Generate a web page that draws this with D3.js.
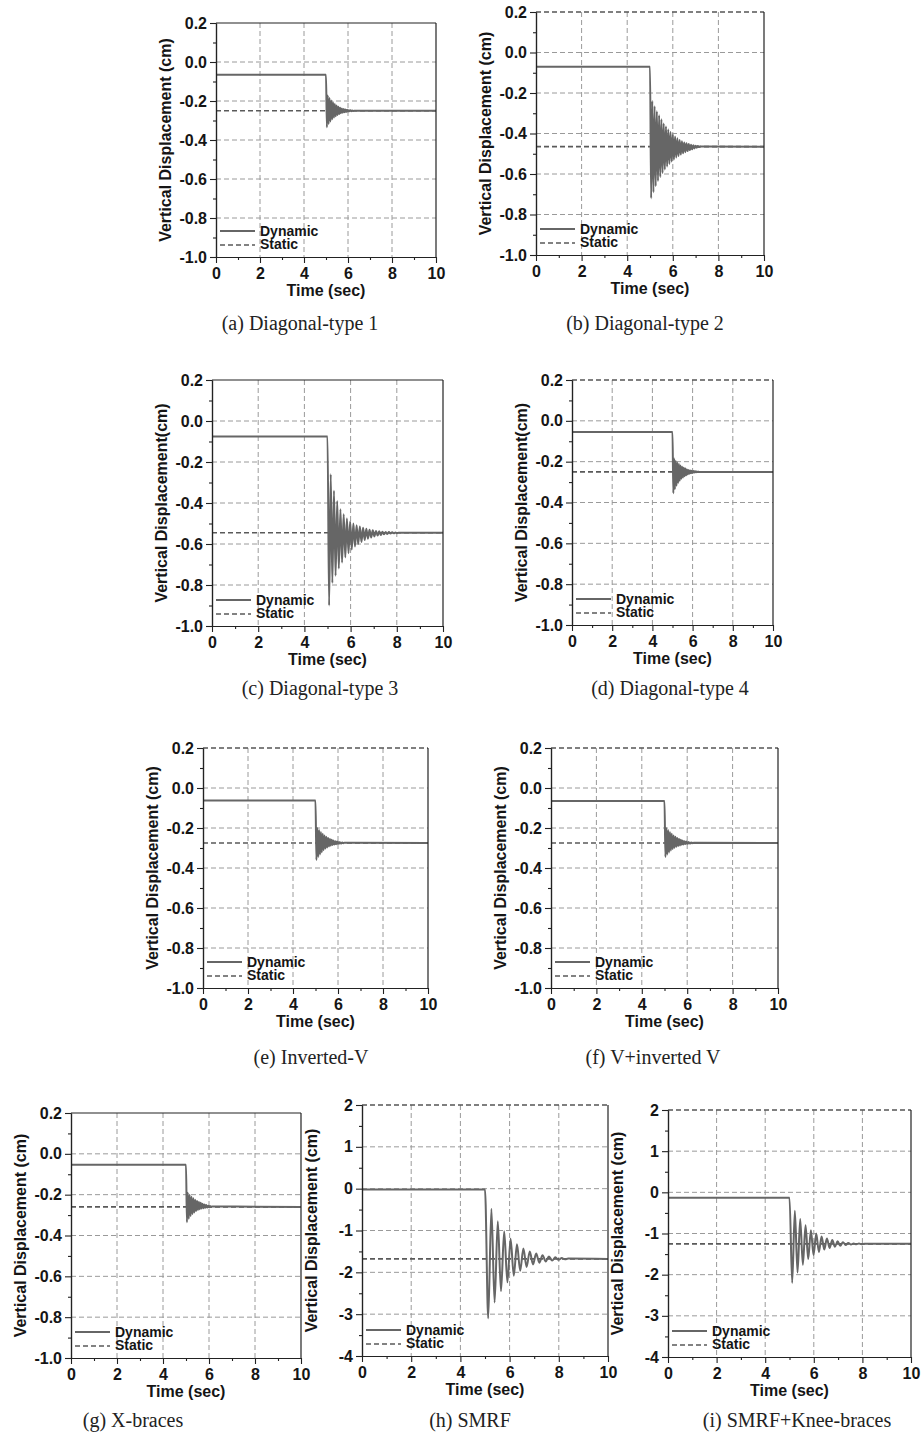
<!DOCTYPE html>
<html>
<head>
<meta charset="utf-8">
<script src="https://cdn.jsdelivr.net/npm/d3@7"></script>
<style>
  body { margin: 0; background: #fff; }
  svg text { font-family: "Liberation Sans", Arial, sans-serif; }
</style>
</head>
<body>
<svg id="fig" width="923" height="1448"></svg>
<script>
// axis ticks
var xTicks = [0, 2, 4, 6, 8, 10];
var xMinor = [1, 3, 5, 7, 9];
var yTicksS = [-1.0, -0.8, -0.6, -0.4, -0.2, 0.0, 0.2];
var yMinorS = [-0.9, -0.7, -0.5, -0.3, -0.1, 0.1];
var yTicksL = [-4, -3, -2, -1, 0, 1, 2];
var yMinorL = [-3.5, -2.5, -1.5, -0.5, 0.5, 1.5];

var captions = ['(a) Diagonal-type 1', '(b) Diagonal-type 2', '(c) Diagonal-type 3',
  '(d) Diagonal-type 4', '(e) Inverted-V', '(f) V+inverted V',
  '(g) X-braces', '(h) SMRF', '(i) SMRF+Knee-braces'];

// displacement before removal (t < 5 s), static result, half period of the ringing (s)
var preLevel    = [-0.065, -0.07, -0.075, -0.055, -0.063, -0.065, -0.054, -0.02, -0.13];
var staticLevel = [-0.25, -0.465, -0.545, -0.25, -0.275, -0.275, -0.26, -1.68, -1.25];
var halfPeriod  = [0.04, 0.05, 0.07, 0.04, 0.04, 0.04, 0.04, 0.13, 0.11];

// peaks of the dynamic response after t = 5 s
var loA = [-0.335, -0.318, -0.305, -0.294, -0.285, -0.278, -0.272, -0.267, -0.263, -0.26, -0.258, -0.256, -0.254, -0.253, -0.252, -0.251];
var hiA = [-0.172, -0.185, -0.197, -0.207, -0.216, -0.223, -0.229, -0.234, -0.238, -0.241, -0.243, -0.245, -0.247, -0.248, -0.249, -0.25];
var loB = [-0.72, -0.69, -0.66, -0.635, -0.615, -0.595, -0.578, -0.563, -0.55, -0.538, -0.528, -0.519, -0.511, -0.504, -0.498, -0.492, -0.487, -0.482, -0.478, -0.474, -0.47, -0.467];
var hiB = [-0.24, -0.265, -0.29, -0.31, -0.33, -0.35, -0.365, -0.38, -0.393, -0.405, -0.415, -0.424, -0.432, -0.438, -0.444, -0.448, -0.452, -0.455, -0.458, -0.46, -0.462, -0.464];
var loC = [-0.90, -0.79, -0.755, -0.72, -0.69, -0.665, -0.645, -0.627, -0.612, -0.6, -0.59, -0.581, -0.574, -0.568, -0.563, -0.559, -0.556, -0.553, -0.551, -0.549, -0.548, -0.547];
var hiC = [-0.26, -0.34, -0.39, -0.43, -0.455, -0.475, -0.49, -0.5, -0.508, -0.515, -0.521, -0.526, -0.53, -0.533, -0.536, -0.538, -0.54, -0.541, -0.542, -0.543, -0.544, -0.545];
var loD = [-0.355, -0.335, -0.318, -0.304, -0.293, -0.284, -0.277, -0.271, -0.266, -0.262, -0.259, -0.257, -0.255, -0.253, -0.252, -0.251, -0.25];
var hiD = [-0.185, -0.195, -0.204, -0.212, -0.219, -0.225, -0.23, -0.234, -0.238, -0.241, -0.243, -0.245, -0.246, -0.247, -0.248, -0.249, -0.25];
var loE = [-0.36, -0.345, -0.332, -0.321, -0.311, -0.303, -0.297, -0.292, -0.288, -0.285, -0.283, -0.281, -0.279, -0.278, -0.277, -0.276];
var hiE = [-0.2, -0.21, -0.22, -0.229, -0.237, -0.244, -0.25, -0.255, -0.259, -0.263, -0.266, -0.268, -0.27, -0.272, -0.273, -0.274];
var loF = [-0.345, -0.333, -0.322, -0.313, -0.305, -0.299, -0.294, -0.29, -0.287, -0.284, -0.282, -0.28, -0.279, -0.278, -0.277, -0.276];
var hiF = [-0.2, -0.21, -0.22, -0.229, -0.237, -0.244, -0.25, -0.255, -0.259, -0.263, -0.266, -0.268, -0.27, -0.272, -0.273, -0.274];
var loG = [-0.335, -0.318, -0.305, -0.295, -0.287, -0.28, -0.275, -0.271, -0.268, -0.266, -0.264, -0.263, -0.262, -0.261];
var hiG = [-0.19, -0.2, -0.21, -0.218, -0.225, -0.231, -0.236, -0.24, -0.244, -0.248, -0.251, -0.254, -0.256, -0.258];
var loH = [-3.1, -2.72, -2.45, -2.24, -2.08, -1.96, -1.87, -1.81, -1.77, -1.74, -1.72, -1.7, -1.69];
var hiH = [-0.48, -0.78, -1.02, -1.2, -1.33, -1.43, -1.5, -1.55, -1.59, -1.62, -1.64, -1.66, -1.67];
var loI = [-2.2, -1.95, -1.76, -1.62, -1.52, -1.45, -1.39, -1.35, -1.32, -1.3, -1.28, -1.27, -1.26, -1.26];
var hiI = [-0.45, -0.65, -0.8, -0.92, -1.0, -1.07, -1.12, -1.16, -1.19, -1.21, -1.23, -1.24, -1.245, -1.25];

var peaksLo = [loA, loB, loC, loD, loE, loF, loG, loH, loI];
var peaksHi = [hiA, hiB, hiC, hiD, hiE, hiF, hiG, hiH, hiI];

// plot boxes on the page
var frames = [
  {l: 216, r: 436, t: 23,   b: 257,  cx: 300, cy: 330,  top: 1, big: 0},
  {l: 536, r: 764, t: 12,   b: 255,  cx: 645, cy: 330,  top: 0, big: 0},
  {l: 212, r: 443, t: 380,  b: 626,  cx: 320, cy: 695,  top: 1, big: 0},
  {l: 572, r: 773, t: 380,  b: 625,  cx: 670, cy: 695,  top: 0, big: 0},
  {l: 203, r: 428, t: 748,  b: 988,  cx: 311, cy: 1064, top: 0, big: 0},
  {l: 551, r: 778, t: 748,  b: 988,  cx: 653, cy: 1064, top: 0, big: 0},
  {l: 71,  r: 301, t: 1113, b: 1358, cx: 133, cy: 1427, top: 1, big: 0},
  {l: 362, r: 608, t: 1105, b: 1356, cx: 470, cy: 1427, top: 0, big: 1},
  {l: 668, r: 911, t: 1110, b: 1357, cx: 797, cy: 1427, top: 0, big: 1}
];

var svg = d3.select('#fig');

frames.forEach(function(f, i) {
  var yT = f.big ? yTicksL : yTicksS;
  var yM = f.big ? yMinorL : yMinorS;
  var x = d3.scaleLinear().domain([0, 10]).range([f.l, f.r]);
  var y = d3.scaleLinear().domain([yT[0], yT[yT.length - 1]]).range([f.b, f.t]);
  var fmt = f.big ? function(d) { return String(d); } : function(d) { return d.toFixed(1); };
  var g = svg.append('g');

  // dashed grid (top one only where the frame has no solid top)
  var gridY = f.top ? yT.slice(1, -1) : yT.slice(1);
  g.selectAll('line.gx').data(xTicks.slice(1, -1)).enter().append('line')
    .attr('x1', x).attr('x2', x).attr('y1', f.t).attr('y2', f.b)
    .style('stroke', '#9a9a9a').style('stroke-width', 1).style('stroke-dasharray', '5,3');
  g.selectAll('line.gy').data(gridY).enter().append('line')
    .attr('x1', f.l).attr('x2', f.r).attr('y1', y).attr('y2', y)
    .style('stroke', function(d) { return d == yT[yT.length - 1] ? '#555' : '#9a9a9a'; })
    .style('stroke-width', function(d) { return d == yT[yT.length - 1] ? 1.3 : 1; })
    .style('stroke-dasharray', '5,3');

  // static line
  g.append('line')
    .attr('x1', x(0)).attr('x2', x(10)).attr('y1', y(staticLevel[i])).attr('y2', y(staticLevel[i]))
    .style('stroke', '#5a5a5a').style('stroke-width', 1.7).style('stroke-dasharray', '5,3');

  // dynamic response
  var pts = [[0, preLevel[i]], [5, preLevel[i]]];
  var hp = halfPeriod[i];
  peaksLo[i].forEach(function(v, k) {
    pts.push([5 + (2 * k + 1) * hp, v]);
    pts.push([5 + (2 * k + 2) * hp, peaksHi[i][k]]);
  });
  pts.push([10, staticLevel[i]]);
  g.append('path').datum(pts)
    .attr('d', d3.line().x(function(d) { return x(d[0]); }).y(function(d) { return y(d[1]); }).curve(d3.curveMonotoneX))
    .style('fill', 'none').style('stroke', '#666').style('stroke-width', 2);

  // frame
  g.append('line').attr('x1', f.r).attr('x2', f.r).attr('y1', f.t).attr('y2', f.b)
    .style('stroke', '#222').style('stroke-width', 1.2);
  if (f.top) {
    g.append('line').attr('x1', f.l).attr('x2', f.r).attr('y1', f.t).attr('y2', f.t)
      .style('stroke', '#222').style('stroke-width', 1.2);
  }

  // axes
  g.append('g').attr('transform', 'translate(0,' + f.b + ')')
    .call(d3.axisBottom(x).tickValues(xTicks).tickSize(6).tickSizeOuter(0).tickPadding(5).tickFormat(d3.format('d')));
  g.append('g').attr('transform', 'translate(0,' + f.b + ')')
    .call(d3.axisBottom(x).tickValues(xMinor).tickSize(3).tickSizeOuter(0).tickFormat(''));
  g.append('g').attr('transform', 'translate(' + f.l + ',0)')
    .call(d3.axisLeft(y).tickValues(yT).tickSize(6).tickSizeOuter(0).tickPadding(3).tickFormat(fmt));
  g.append('g').attr('transform', 'translate(' + f.l + ',0)')
    .call(d3.axisLeft(y).tickValues(yM).tickSize(3).tickSizeOuter(0).tickFormat(''));
  g.selectAll('.domain').style('stroke', '#222').style('stroke-width', 1.2);
  g.selectAll('.tick line').style('stroke', '#222').style('stroke-width', 1.1);
  g.selectAll('.tick text').style('font-family', '"Liberation Sans", Arial, sans-serif')
    .style('font-weight', 'bold').style('font-size', '16px').style('fill', '#151515');

  // axis titles
  g.append('text').attr('x', (f.l + f.r) / 2).attr('y', f.b + 39)
    .attr('text-anchor', 'middle').style('font-weight', 'bold').style('font-size', '16px').style('fill', '#151515')
    .text('Time (sec)');
  g.append('text')
    .attr('transform', 'translate(' + (f.l - 45) + ',' + ((f.t + f.b) / 2) + ') rotate(-90)')
    .attr('text-anchor', 'middle').style('font-weight', 'bold').style('font-size', '16px').style('fill', '#151515')
    .text(i == 2 || i == 3 ? 'Vertical Displacement(cm)' : 'Vertical Displacement (cm)');

  // legend
  var lg = g.append('g');
  lg.append('line').attr('x1', f.l + 4).attr('x2', f.l + 39).attr('y1', f.b - 26).attr('y2', f.b - 26)
    .style('stroke', '#666').style('stroke-width', 2);
  lg.append('line').attr('x1', f.l + 4).attr('x2', f.l + 39).attr('y1', f.b - 12).attr('y2', f.b - 12)
    .style('stroke', '#5a5a5a').style('stroke-width', 1.6).style('stroke-dasharray', '5,3');
  lg.append('text').attr('x', f.l + 44).attr('y', f.b - 21.5)
    .style('font-weight', 'bold').style('font-size', '14px').style('fill', '#151515').text('Dynamic');
  lg.append('text').attr('x', f.l + 44).attr('y', f.b - 8)
    .style('font-weight', 'bold').style('font-size', '14px').style('fill', '#151515').text('Static');

  // caption
  svg.append('text').attr('x', f.cx).attr('y', f.cy).attr('text-anchor', 'middle')
    .style('font-family', '"Liberation Serif", "Times New Roman", serif').style('font-size', '20px').style('fill', '#222')
    .text(captions[i]);
});
</script>
</body>
</html>
